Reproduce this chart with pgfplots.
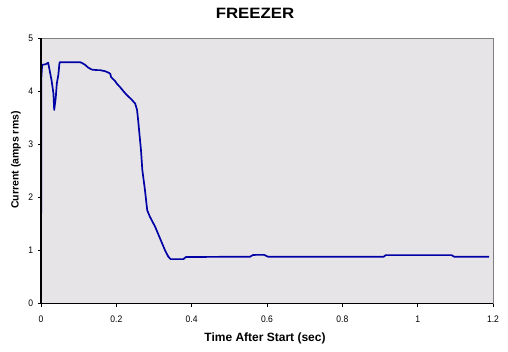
\documentclass[border=0pt]{standalone}
\usepackage{pgfplots}
\pgfplotsset{compat=1.18}
\usepackage{fontspec}
\setmainfont{Liberation Sans}
\definecolor{bgcol}{RGB}{231,228,232}
\definecolor{linecol}{RGB}{0,0,165}
\definecolor{framecol}{RGB}{128,128,128}
\begin{document}
\begin{tikzpicture}[x=1pt,y=1pt]
\path[use as bounding box] (0,0) rectangle (508,352);
\begin{axis}[
  at={(41pt,48.3pt)}, anchor=south west,
  width=452pt, height=265.4pt, scale only axis,
  xmin=0, xmax=1.2, ymin=0, ymax=5,
  xtick={0,0.2,0.4,0.6,0.8,1,1.2},
  ytick={0,1,2,3,4,5},
  xtick pos=bottom, ytick pos=left,
  tick align=outside, major tick length=3pt,
  tick style={black, line width=0.8pt},
  axis background/.style={fill=bgcol},
  axis line style={framecol, line width=0.8pt},
  /pgf/number format/assume math mode=true,
  ticklabel style={font=\fontsize{9.5}{11}\selectfont, xscale=0.9},
  xticklabel style={yshift=-6pt},
  yticklabel style={xshift=-2pt},
  clip=false,
]
\addplot[linecol, line width=1.7pt, line join=round] coordinates {
(0,0) (0.001,4.27) (0.003,4.50) (0.012,4.51) (0.019,4.54)
(0.028,4.21) (0.033,3.96) (0.035,3.65) (0.039,3.87) (0.042,4.15)
(0.046,4.31) (0.049,4.53) (0.050,4.55) (0.104,4.55) (0.110,4.53)
(0.117,4.50) (0.125,4.45) (0.135,4.41) (0.150,4.40) (0.157,4.40)
(0.170,4.38) (0.180,4.35) (0.184,4.33) (0.186,4.27) (0.190,4.24)
(0.196,4.20) (0.202,4.14) (0.210,4.08) (0.218,4.01) (0.228,3.93)
(0.240,3.85) (0.250,3.77) (0.255,3.65) (0.258,3.45) (0.262,3.15)
(0.2655,2.89) (0.269,2.52) (0.276,2.14) (0.282,1.76) (0.289,1.64)
(0.303,1.45) (0.316,1.23) (0.329,1.01) (0.338,0.885) (0.344,0.84)
(0.378,0.84) (0.385,0.88) (0.555,0.885) (0.562,0.915) (0.570,0.92)
(0.592,0.92) (0.603,0.885) (0.910,0.885) (0.915,0.915) (1.090,0.915)
(1.097,0.885) (1.190,0.885)
};
\draw[black, line width=1.2pt] (rel axis cs:0,1) -- (rel axis cs:0,0) -- (rel axis cs:1,0);
\end{axis}
\node[font=\fontsize{15}{18}\selectfont\bfseries, xscale=1.12] at (255,339) {FREEZER};
\node[font=\fontsize{12}{14}\selectfont\bfseries] at (265,13.5) {Time After Start (sec)};
\node[font=\fontsize{10.5}{12}\selectfont\bfseries, rotate=90] at (16,192) {Current (amps rms)};
\end{tikzpicture}
\end{document}
